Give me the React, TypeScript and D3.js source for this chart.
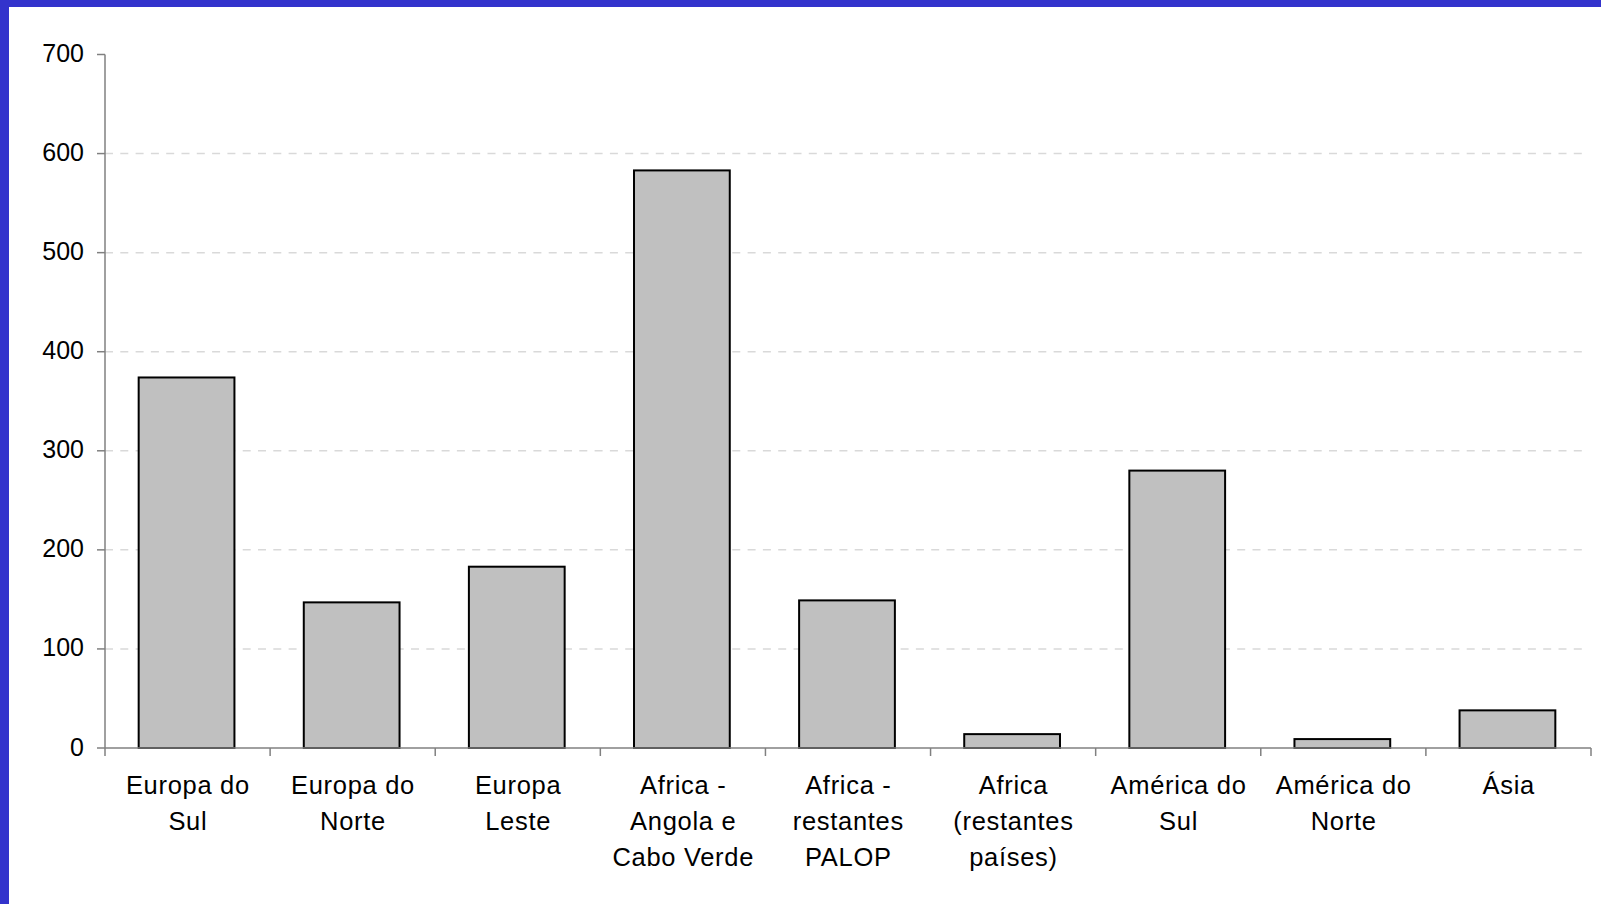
import React from "react";
import * as d3 from "d3";

const categories: string[][] = [
  ["Europa do", "Sul"],
  ["Europa do", "Norte"],
  ["Europa", "Leste"],
  ["Africa -", "Angola e", "Cabo Verde"],
  ["Africa -", "restantes", "PALOP"],
  ["Africa", "(restantes", "países)"],
  ["América do", "Sul"],
  ["América do", "Norte"],
  ["Ásia"],
];
const values: number[] = [374, 147, 183, 583, 149, 14, 280, 9, 38];
const yTicks: number[] = [0, 100, 200, 300, 400, 500, 600, 700];

const W = 1601;
const H = 904;
const FONT = "'Liberation Sans', Arial, sans-serif";

export default function App() {
  const keys = categories.map((c) => c.join(" "));
  const x = d3
    .scaleBand<string>()
    .domain(keys)
    .range([105, 1591])
    .paddingInner(0.42)
    .paddingOuter(0.21);
  const y = d3.scaleLinear().domain([0, 700]).range([748, 54.5]);
  const step = x.step();
  const x0 = 105;
  const x1 = 1591;
  const ls = 0.7;

  return (
    <div style={{ position: "fixed", left: 0, top: 0, width: W, height: H, background: "#fff" }}>
      <svg width={W} height={H} style={{ display: "block" }}>
        <rect x={0} y={0} width={W} height={H} fill="#fff" />
        <rect x={0} y={0} width={W} height={7} fill="#3333cc" />
        <rect x={0} y={0} width={9} height={H} fill="#3333cc" />
        {/* gridlines */}
        {yTicks
          .filter((t) => t > 0 && t < 700)
          .map((t) => (
            <line
              key={"g" + t}
              x1={x0}
              x2={1588}
              y1={y(t)}
              y2={y(t)}
              stroke="#d9d9d9"
              strokeWidth={1.5}
              strokeDasharray="8,7.3"
            />
          ))}
        {/* bars */}
        {keys.map((k, i) => (
          <rect
            key={"b" + k}
            x={(x(k) as number) - 1}
            y={y(values[i])}
            width={x.bandwidth()}
            height={y(0) - y(values[i])}
            fill="#c0c0c0"
            stroke="#000"
            strokeWidth={2}
          />
        ))}
        {/* y axis */}
        <line x1={x0} x2={x0} y1={y(700)} y2={y(0)} stroke="#808080" strokeWidth={1.5} />
        {yTicks.map((t) => (
          <g key={"yt" + t}>
            <line x1={97} x2={x0} y1={y(t)} y2={y(t)} stroke="#808080" strokeWidth={1.5} />
            <text
              x={84}
              y={y(t)}
              dy="0.3em"
              textAnchor="end"
              fontFamily={FONT}
              fontSize={25}
              fill="#000"
            >
              {t}
            </text>
          </g>
        ))}
        {/* x axis */}
        <line x1={x0} x2={x1} y1={y(0)} y2={y(0)} stroke="#808080" strokeWidth={1.5} />
        {d3.range(keys.length + 1).map((i) => (
          <line
            key={"xt" + i}
            x1={x0 + i * step}
            x2={x0 + i * step}
            y1={y(0)}
            y2={y(0) + 8}
            stroke="#808080"
            strokeWidth={1.5}
          />
        ))}
        {categories.map((lines, i) => {
          const cx = (x(keys[i]) as number) + x.bandwidth() / 2 + ls / 2;
          return (
            <text
              key={"xl" + i}
              textAnchor="middle"
              fontFamily={FONT}
              fontSize={25.5}
              letterSpacing={ls}
              fill="#000"
            >
              {lines.map((ln, j) => (
                <tspan key={j} x={cx} y={793.5 + j * 36}>
                  {ln}
                </tspan>
              ))}
            </text>
          );
        })}
      </svg>
    </div>
  );
}
